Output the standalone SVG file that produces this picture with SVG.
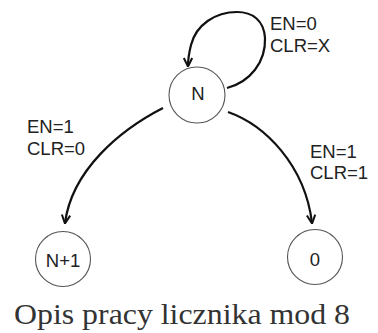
<svg xmlns="http://www.w3.org/2000/svg" width="378" height="333" viewBox="0 0 378 333">
  <style>
    .node circle { fill: #ffffff; stroke: #555555; stroke-width: 1.1; }
    .node text { font-family: "Liberation Sans", Arial, sans-serif; font-size: 18.5px; fill: #222222; text-anchor: middle; }
    .edge { fill: none; stroke: #111111; stroke-width: 2.2; marker-end: url(#arrow); }
    .lbl { font-family: "Liberation Sans", Arial, sans-serif; font-size: 18.5px; fill: #222222; }
    .caption { font-family: "Liberation Serif", "Times New Roman", serif; font-size: 30px; fill: #333333; }
  </style>
  <defs>
    <marker id="arrow" viewBox="0 0 10 10" refX="9" refY="5" markerWidth="10" markerHeight="10" markerUnits="userSpaceOnUse" orient="auto">
      <path d="M1,0.8 L9.5,5 L1,9.2" fill="none" stroke="#111111" stroke-width="2"/>
    </marker>
  </defs>
  <rect width="378" height="333" fill="#ffffff"/>

  <g id="connectors">
    <path class="edge" d="M227,88 C250,82 266,62 265,38 C264,20 252,12 237,12 C215,12 196,25 191,45 C189,53 188,60 188,66"/>
    <path class="edge" d="M163,108 C120,130 72,170 65,223"/>
    <path class="edge" d="M228,112 C265,125 305,165 312,223"/>
  </g>

  <g id="labels">
    <text class="lbl" x="270" y="30">EN=0</text>
    <text class="lbl" x="270" y="52">CLR=X</text>
    <text class="lbl" x="27" y="133">EN=1</text>
    <text class="lbl" x="27" y="155">CLR=0</text>
    <text class="lbl" x="310" y="158">EN=1</text>
    <text class="lbl" x="310" y="179">CLR=1</text>
  </g>

  <g id="node-N" class="node">
    <circle cx="197" cy="95" r="28"/>
    <text x="198" y="100">N</text>
  </g>
  <g id="node-N1" class="node">
    <circle cx="63" cy="259" r="27.5"/>
    <text x="63" y="267">N+1</text>
  </g>
  <g id="node-0" class="node">
    <circle cx="315" cy="257" r="27.5"/>
    <text x="315" y="266">0</text>
  </g>

  <text class="caption" x="14" y="324" textLength="336" lengthAdjust="spacingAndGlyphs">Opis pracy licznika mod 8</text>
</svg>
